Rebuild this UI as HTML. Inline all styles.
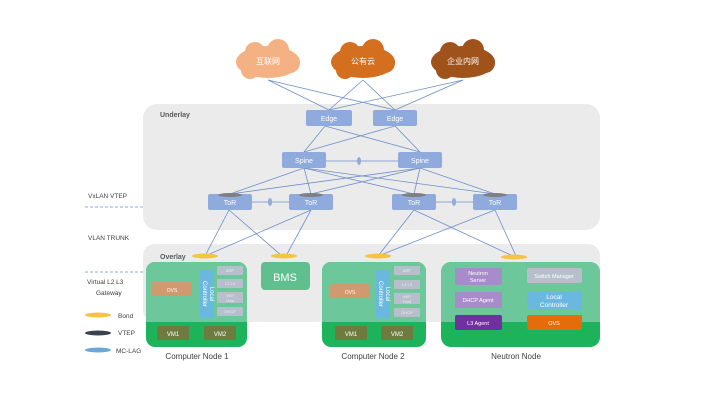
<!DOCTYPE html>
<html><head><meta charset="utf-8"><style>
body{margin:0;background:#fff}
svg{display:block}
text{font-family:"Liberation Sans","Noto Sans CJK SC",sans-serif}
</style></head><body>
<svg width="720" height="405" viewBox="0 0 720 405" xmlns="http://www.w3.org/2000/svg">
<rect x="143" y="104" width="457" height="126" rx="14" fill="#ebebeb"/>
<rect x="143" y="244" width="457" height="78" rx="12" fill="#ebebeb"/>
<text x="160" y="117" font-size="7" fill="#595959" font-weight="bold">Underlay</text>
<text x="160" y="259" font-size="7" fill="#595959" font-weight="bold">Overlay</text>

<g stroke="#6f8fc8" stroke-width="0.8" fill="none">
<line x1="268" y1="80" x2="329" y2="110"/><line x1="268" y1="80" x2="395" y2="110"/>
<line x1="363" y1="80" x2="329" y2="110"/><line x1="363" y1="80" x2="395" y2="110"/>
<line x1="463" y1="80" x2="329" y2="110"/><line x1="463" y1="80" x2="395" y2="110"/>
<line x1="325" y1="126" x2="304" y2="152"/><line x1="325" y1="126" x2="420" y2="152"/>
<line x1="395" y1="126" x2="304" y2="152"/><line x1="395" y1="126" x2="420" y2="152"/>
<line x1="326" y1="161" x2="398" y2="161"/>
<line x1="304" y1="168" x2="230" y2="194"/><line x1="304" y1="168" x2="311" y2="194"/><line x1="304" y1="168" x2="414" y2="194"/><line x1="304" y1="168" x2="495" y2="194"/>
<line x1="420" y1="168" x2="230" y2="194"/><line x1="420" y1="168" x2="311" y2="194"/><line x1="420" y1="168" x2="414" y2="194"/><line x1="420" y1="168" x2="495" y2="194"/>
<line x1="252" y1="202" x2="289" y2="202"/><line x1="436" y1="202" x2="473" y2="202"/>
<line x1="229" y1="210" x2="205" y2="256"/><line x1="229" y1="210" x2="282" y2="256"/>
<line x1="311" y1="210" x2="205" y2="256"/><line x1="311" y1="210" x2="286" y2="256"/>
<line x1="414" y1="210" x2="378" y2="256"/><line x1="414" y1="210" x2="513" y2="256"/>
<line x1="495" y1="210" x2="378" y2="256"/><line x1="495" y1="210" x2="516" y2="256"/>
</g>
<g fill="#8faadc"><ellipse cx="359" cy="161" rx="2" ry="4"/><ellipse cx="270" cy="202" rx="2" ry="4"/><ellipse cx="454" cy="202" rx="2" ry="4"/></g>

<g>
<ellipse cx="268" cy="62" rx="32" ry="16" fill="#f4b183"/><circle cx="255" cy="52" r="10" fill="#f4b183"/><circle cx="278" cy="50" r="11" fill="#f4b183"/><circle cx="290" cy="63" r="10" fill="#f4b183"/><circle cx="250" cy="70" r="9" fill="#f4b183"/>
<ellipse cx="363" cy="62" rx="32" ry="16" fill="#d36f1f"/><circle cx="350" cy="52" r="10" fill="#d36f1f"/><circle cx="373" cy="50" r="11" fill="#d36f1f"/><circle cx="385" cy="63" r="10" fill="#d36f1f"/><circle cx="345" cy="70" r="9" fill="#d36f1f"/>
<ellipse cx="463" cy="62" rx="32" ry="16" fill="#a0521b"/><circle cx="450" cy="52" r="10" fill="#a0521b"/><circle cx="473" cy="50" r="11" fill="#a0521b"/><circle cx="485" cy="63" r="10" fill="#a0521b"/><circle cx="445" cy="70" r="9" fill="#a0521b"/>
<text x="268" y="64" font-size="8" fill="#fff" text-anchor="middle">互联网</text>
<text x="363" y="64" font-size="8" fill="#fff" text-anchor="middle">公有云</text>
<text x="463" y="64" font-size="8" fill="#fff" text-anchor="middle">企业内网</text>
</g>

<g fill="#8faadc">
<rect x="306" y="110" width="46" height="16" rx="2"/><rect x="373" y="110" width="44" height="16" rx="2"/>
<rect x="282" y="152" width="44" height="16" rx="2"/><rect x="398" y="152" width="44" height="16" rx="2"/>
<rect x="208" y="194" width="44" height="16" rx="2"/><rect x="289" y="194" width="44" height="16" rx="2"/>
<rect x="392" y="194" width="44" height="16" rx="2"/><rect x="473" y="194" width="44" height="16" rx="2"/>
</g>
<g fill="#7f7f7f"><ellipse cx="230" cy="195" rx="12" ry="2"/><ellipse cx="311" cy="195" rx="12" ry="2"/><ellipse cx="414" cy="195" rx="12" ry="2"/><ellipse cx="495" cy="195" rx="12" ry="2"/></g>
<g font-size="7" fill="#fff" text-anchor="middle">
<text x="329" y="121">Edge</text><text x="395" y="121">Edge</text>
<text x="304" y="163">Spine</text><text x="420" y="163">Spine</text>
<text x="230" y="205">ToR</text><text x="311" y="205">ToR</text><text x="414" y="205">ToR</text><text x="495" y="205">ToR</text>
</g>

<g>
<rect x="146" y="262" width="101" height="85" rx="9" fill="#1db35a"/>
<rect x="146" y="262" width="101" height="60" rx="9" fill="#6cc79a"/><rect x="146" y="300" width="101" height="22" fill="#6cc79a"/>
<rect x="152" y="282" width="40" height="14" rx="2" fill="#d19a6e"/>
<rect x="200" y="270" width="14" height="48" fill="#6ab8e0"/>
<g fill="#b7bfcc"><rect x="217" y="266" width="26" height="9"/><rect x="217" y="279" width="26" height="9"/><rect x="217" y="292" width="26" height="11"/><rect x="217" y="307" width="26" height="9"/></g>
<g font-size="4" fill="#eee" text-anchor="middle"><text x="230" y="272">ARP</text><text x="230" y="285">L2 L3</text><text x="230" y="297">VM?</text><text x="230" y="302">Host</text><text x="230" y="313">DHCP</text></g>
<rect x="157" y="326" width="32" height="14" rx="2" fill="#6e7b3e"/><rect x="204" y="326" width="32" height="14" rx="2" fill="#6e7b3e"/>
<text x="172" y="292" font-size="5" fill="#fff" text-anchor="middle">OVS</text>
<text x="173" y="336" font-size="6" fill="#fff" text-anchor="middle">VM1</text><text x="220" y="336" font-size="6" fill="#fff" text-anchor="middle">VM2</text>
<text transform="translate(210,294) rotate(90)" font-size="6" fill="#fff" text-anchor="middle">Local</text>
<text transform="translate(203,294) rotate(90)" font-size="6" fill="#fff" text-anchor="middle">Controller</text>

<rect x="261" y="262" width="49" height="28" rx="4" fill="#5fbf8f"/>
<text x="285" y="281" font-size="11" fill="#fff" text-anchor="middle">BMS</text>

<rect x="322" y="262" width="104" height="85" rx="9" fill="#1db35a"/>
<rect x="322" y="262" width="104" height="60" rx="9" fill="#6cc79a"/><rect x="322" y="300" width="104" height="22" fill="#6cc79a"/>
<rect x="330" y="284" width="40" height="14" rx="2" fill="#d19a6e"/>
<rect x="376" y="270" width="14" height="48" fill="#6ab8e0"/>
<g fill="#b7bfcc"><rect x="394" y="266" width="26" height="9"/><rect x="394" y="280" width="26" height="9"/><rect x="394" y="293" width="26" height="11"/><rect x="394" y="308" width="26" height="9"/></g>
<g font-size="4" fill="#eee" text-anchor="middle"><text x="407" y="272">ARP</text><text x="407" y="286">L2 L3</text><text x="407" y="298">VM?</text><text x="407" y="303">Host</text><text x="407" y="314">DHCP</text></g>
<rect x="335" y="326" width="32" height="14" rx="2" fill="#6e7b3e"/><rect x="381" y="326" width="32" height="14" rx="2" fill="#6e7b3e"/>
<text x="350" y="294" font-size="5" fill="#fff" text-anchor="middle">OVS</text>
<text x="351" y="336" font-size="6" fill="#fff" text-anchor="middle">VM1</text><text x="397" y="336" font-size="6" fill="#fff" text-anchor="middle">VM2</text>
<text transform="translate(386,294) rotate(90)" font-size="6" fill="#fff" text-anchor="middle">Local</text>
<text transform="translate(379,294) rotate(90)" font-size="6" fill="#fff" text-anchor="middle">Controller</text>

<rect x="441" y="262" width="159" height="85" rx="10" fill="#1db35a"/>
<rect x="441" y="262" width="159" height="60" rx="10" fill="#6cc79a"/><rect x="441" y="300" width="159" height="22" fill="#6cc79a"/>
<rect x="455" y="268" width="47" height="17" rx="2" fill="#a88bc9"/>
<rect x="455" y="292" width="47" height="16" rx="2" fill="#a88bc9"/>
<rect x="455" y="315" width="47" height="15" rx="2" fill="#7030a0"/>
<rect x="527" y="268" width="55" height="15" rx="2" fill="#b7bfcc"/>
<rect x="527" y="291" width="55" height="19" rx="2" fill="#6ab8e0"/>
<rect x="527" y="315" width="55" height="15" rx="2" fill="#e46c0a"/>
<g font-size="5.5" fill="#fff" text-anchor="middle">
<text x="478" y="275">Neutron</text><text x="478" y="282">Server</text>
<text x="478" y="302">DHCP Agent</text><text x="478" y="325">L3 Agent</text>
<text x="554" y="278">Switch Manager</text>
<text x="554" y="299" font-size="6.5">Local</text><text x="554" y="307" font-size="6.5">Controller</text>
<text x="554" y="325">OVS</text>
</g>
</g>

<g fill="#f5c542"><ellipse cx="205" cy="256" rx="13" ry="2.5"/><ellipse cx="284" cy="256" rx="13" ry="2.5"/><ellipse cx="378" cy="256" rx="13" ry="2.5"/><ellipse cx="514" cy="257" rx="13" ry="2.5"/></g>

<g font-size="8" fill="#404040" text-anchor="middle">
<text x="197" y="359">Computer Node 1</text>
<text x="373" y="359">Computer Node 2</text>
<text x="516" y="359">Neutron Node</text>
</g>
<g font-size="6.5" fill="#404040">
<text x="88" y="198">VxLAN VTEP</text>
<text x="88" y="240">VLAN TRUNK</text>
<text x="87" y="284">Virtual L2 L3</text>
<text x="96" y="295">Gateway</text>
<text x="118" y="318">Bond</text>
<text x="118" y="335">VTEP</text>
<text x="116" y="353">MC-LAG</text>
</g>
<g stroke="#6a8fbf" stroke-width="0.8" stroke-dasharray="3,2"><line x1="85" y1="207" x2="145" y2="207"/><line x1="85" y1="272" x2="145" y2="272"/></g>
<ellipse cx="98" cy="315" rx="13" ry="2.5" fill="#f5c542"/>
<ellipse cx="98" cy="333" rx="13" ry="2.5" fill="#3b4150"/>
<ellipse cx="98" cy="350" rx="13" ry="2.5" fill="#6aa8d8"/>
</svg>
</body></html>
